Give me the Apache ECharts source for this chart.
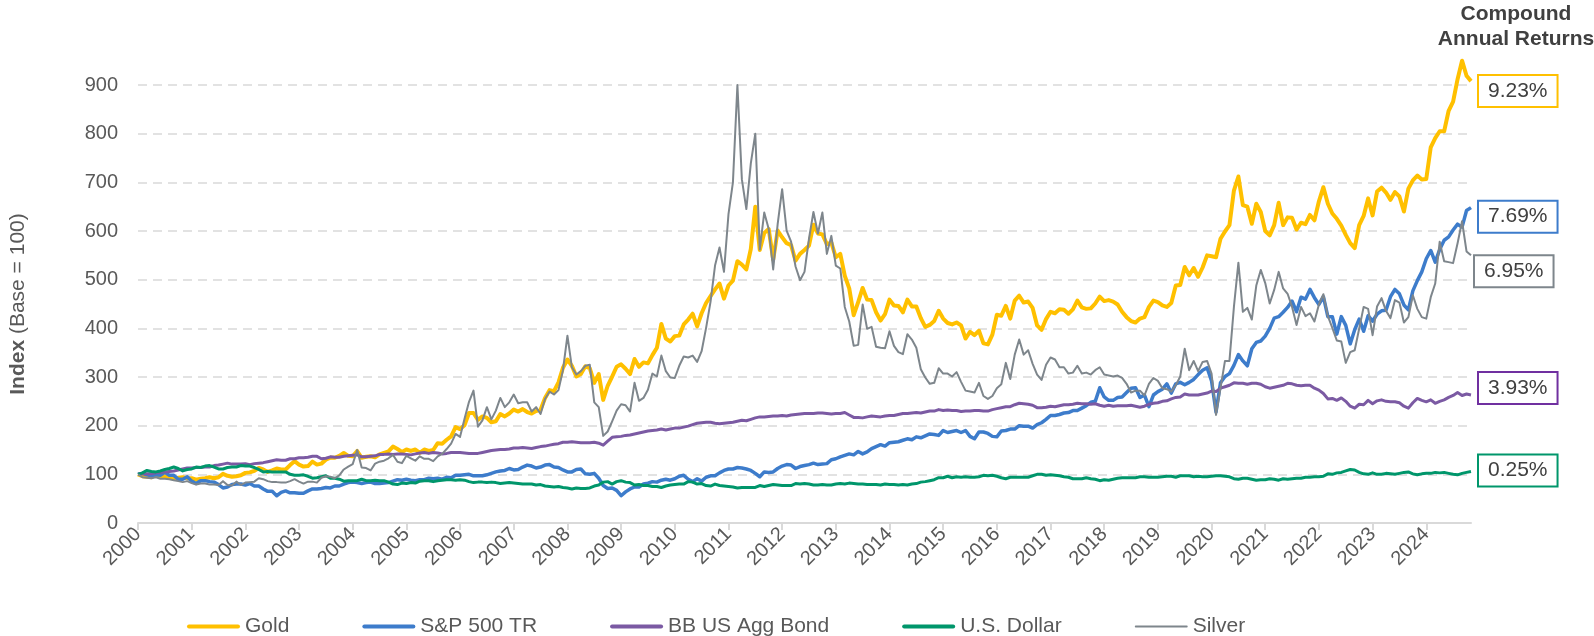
<!DOCTYPE html>
<html>
<head>
<meta charset="utf-8">
<title>Compound Annual Returns</title>
<script src="https://cdn.jsdelivr.net/npm/echarts@6/dist/echarts.min.js"></script>
<style>
  html, body { margin: 0; padding: 0; background: #fff; }
  #main { width: 1594px; height: 636px; }
</style>
</head>
<body>
<div id="main"></div>
<script>
// year labels, one every 12 monthly points
const yearLabels = ['2000', '2001', '2002', '2003', '2004', '2005', '2006', '2007', '2008',
  '2009', '2010', '2011', '2012', '2013', '2014', '2015', '2016', '2017', '2018', '2019',
  '2020', '2021', '2022', '2023', '2024'];

// index levels (base = 100), monthly
const gold = [100,
  96, 95, 94, 100, 96, 96, 94, 91, 93, 94,
  92, 92, 89, 91, 92, 94, 92, 94, 101, 97, 95, 96,
  98, 103, 104, 107, 113, 110, 105, 108, 112, 110, 110, 119,
  127, 120, 116, 117, 126, 120, 122, 130, 134, 134, 138, 144,
  138, 137, 148, 134, 136, 137, 135, 141, 144, 147, 157, 152,
  146, 151, 148, 151, 144, 151, 148, 150, 164, 163, 171, 178,
  197, 193, 201, 226, 226, 212, 219, 216, 207, 209, 224, 219,
  225, 233, 229, 234, 228, 225, 230, 233, 257, 273, 271, 289,
  319, 336, 323, 301, 306, 322, 318, 288, 306, 253, 282, 301,
  321, 326, 317, 306, 337, 321, 330, 328, 345, 360, 409, 379,
  373, 384, 385, 408, 418, 430, 404, 431, 452, 466, 480, 492,
  461, 488, 498, 538, 531, 521, 563, 650, 561, 596, 604, 541,
  601, 587, 575, 571, 539, 553, 561, 570, 613, 595, 593, 573,
  576, 546, 553, 508, 482, 427, 454, 483, 459, 458, 433, 416,
  429, 459, 447, 446, 433, 459, 445, 445, 421, 403, 407, 415,
  436, 420, 411, 408, 412, 406, 379, 393, 386, 395, 369, 367,
  387, 428, 426, 446, 420, 457, 467, 453, 455, 442, 406, 397,
  419, 434, 431, 439, 438, 430, 439, 457, 443, 440, 441, 451,
  465, 456, 458, 455, 449, 434, 423, 415, 412, 420, 423, 444,
  457, 454, 447, 444, 452, 488, 489, 526, 509, 524, 506, 525,
  550, 548, 546, 584, 599, 612, 683, 712, 653, 650, 615, 656,
  639, 600, 591, 612, 658, 612, 628, 627, 603, 617, 614, 633,
  622, 661, 690, 656, 636, 625, 611, 592, 575, 565, 612, 631,
  667, 632, 681, 689, 679, 664, 680, 671, 640, 687, 704, 714,
  706, 707, 772, 791, 805, 805, 847, 866, 912, 950, 919, 908];

const sp500 = [100,
  102, 99, 97, 99, 98, 104, 98, 98, 90, 90,
  95, 86, 81, 87, 87, 85, 84, 79, 72, 74, 79, 80,
  80, 78, 81, 76, 76, 70, 65, 65, 56, 63, 66, 62,
  62, 61, 61, 66, 70, 70, 71, 73, 72, 76, 76, 80,
  83, 84, 83, 81, 83, 84, 81, 81, 82, 83, 86, 89,
  88, 90, 88, 87, 89, 89, 92, 91, 92, 90, 94, 93,
  98, 98, 99, 100, 97, 97, 97, 99, 102, 105, 107, 108,
  112, 109, 110, 115, 119, 117, 113, 115, 119, 120, 115, 114,
  109, 105, 105, 110, 111, 101, 100, 102, 92, 77, 71, 72,
  67, 56, 64, 70, 74, 74, 80, 82, 85, 84, 88, 90,
  88, 91, 96, 98, 90, 85, 91, 86, 94, 97, 97, 103,
  108, 111, 111, 114, 113, 111, 108, 102, 95, 105, 104, 105,
  112, 117, 120, 119, 112, 116, 118, 120, 123, 120, 121, 122,
  130, 132, 136, 139, 142, 140, 147, 142, 146, 153, 157, 161,
  158, 165, 166, 167, 170, 173, 171, 177, 175, 179, 183, 182,
  180, 190, 186, 188, 190, 186, 190, 178, 173, 187, 187, 184,
  178, 177, 189, 190, 193, 193, 200, 199, 199, 195, 202, 206,
  213, 221, 221, 223, 226, 227, 231, 231, 236, 241, 248, 250,
  278, 259, 252, 252, 258, 259, 268, 277, 278, 258, 263, 239,
  263, 270, 275, 286, 267, 286, 289, 284, 289, 295, 305, 314,
  319, 292, 228, 288, 301, 307, 324, 346, 333, 323, 358, 371,
  374, 384, 400, 421, 424, 433, 443, 456, 434, 464, 460, 480,
  463, 449, 465, 424, 424, 388, 424, 406, 368, 397, 419, 394,
  426, 415, 429, 436, 437, 465, 480, 471, 448, 438, 477, 498,
  516, 543, 560, 536, 562, 581, 588, 602, 614, 608, 642, 648];

const aggBond = [100,
  101, 101, 101, 103, 104, 105, 106, 107, 109, 111,
  113, 113, 114, 114, 115, 115, 118, 119, 121, 123, 121, 121,
  121, 122, 120, 122, 123, 124, 126, 128, 130, 129, 129, 132,
  132, 134, 134, 135, 137, 137, 132, 133, 136, 135, 135, 137,
  138, 139, 140, 136, 136, 137, 138, 141, 141, 142, 141, 142,
  142, 141, 140, 142, 144, 145, 143, 145, 144, 142, 143, 145,
  145, 145, 144, 143, 143, 143, 145, 147, 149, 150, 151, 151,
  152, 154, 154, 155, 154, 153, 155, 157, 158, 160, 162, 163,
  166, 166, 167, 166, 165, 165, 165, 166, 164, 160, 168, 176,
  177, 178, 180, 181, 183, 185, 187, 189, 190, 191, 193, 191,
  193, 195, 195, 197, 199, 202, 205, 206, 207, 207, 205, 204,
  205, 206, 207, 209, 211, 210, 213, 216, 218, 218, 219, 220,
  220, 221, 220, 222, 223, 224, 225, 225, 225, 226, 226, 225,
  224, 225, 225, 227, 222, 217, 217, 216, 218, 220, 219, 218,
  220, 221, 221, 223, 225, 225, 226, 227, 226, 228, 230, 230,
  233, 231, 232, 231, 231, 229, 230, 230, 231, 231, 230, 230,
  233, 235, 237, 239, 239, 243, 246, 245, 244, 242, 237, 237,
  238, 240, 239, 241, 243, 243, 244, 246, 245, 245, 244, 245,
  242, 240, 242, 240, 241, 241, 241, 242, 240, 238, 240, 244,
  246, 247, 250, 251, 255, 258, 259, 265, 263, 263, 263, 265,
  267, 271, 270, 277, 280, 283, 288, 287, 287, 285, 287, 287,
  285, 280, 277, 279, 281, 283, 287, 286, 283, 282, 283, 283,
  277, 273, 266, 255, 256, 252, 257, 250, 240, 236, 244, 243,
  252, 245, 251, 253, 250, 249, 249, 247, 240, 236, 247, 256,
  252, 249, 253, 246, 250, 253, 258, 262, 268, 262, 265, 263];

const usDollar = [100,
  103, 108, 106, 105, 107, 110, 112, 115, 112, 107,
  110, 111, 115, 114, 117, 118, 115, 111, 111, 114, 115, 115,
  118, 117, 117, 114, 110, 105, 106, 105, 105, 105, 105, 100,
  98, 98, 99, 96, 92, 93, 95, 97, 92, 92, 90, 86,
  87, 87, 87, 90, 87, 87, 88, 87, 87, 84, 80, 79,
  82, 81, 83, 82, 86, 87, 87, 85, 87, 88, 89, 89,
  88, 89, 88, 85, 83, 84, 84, 83, 84, 83, 81, 82,
  83, 82, 81, 80, 80, 80, 78, 79, 76, 75, 74, 75,
  73, 72, 70, 72, 71, 71, 72, 76, 78, 84, 85, 80,
  85, 87, 84, 83, 78, 79, 77, 77, 75, 75, 73, 76,
  78, 79, 80, 80, 85, 84, 80, 81, 77, 76, 80, 77,
  76, 75, 74, 72, 73, 73, 73, 73, 77, 75, 77, 79,
  78, 77, 77, 77, 81, 80, 81, 80, 78, 78, 79, 78,
  78, 80, 81, 80, 82, 81, 80, 80, 79, 79, 79, 78,
  80, 79, 79, 78, 79, 78, 80, 81, 84, 85, 87, 89,
  93, 93, 96, 93, 95, 94, 95, 94, 94, 95, 98, 97,
  98, 96, 93, 91, 94, 94, 94, 94, 94, 97, 100, 100,
  98, 99, 98, 97, 95, 94, 91, 91, 91, 93, 91, 90,
  87, 89, 88, 90, 92, 93, 93, 93, 93, 95, 95, 94,
  94, 94, 95, 96, 96, 94, 97, 97, 97, 95, 96, 95,
  95, 96, 97, 97, 96, 95, 91, 90, 92, 92, 90, 88,
  89, 89, 91, 90, 88, 91, 90, 91, 92, 92, 94, 94,
  95, 95, 96, 101, 100, 103, 104, 107, 110, 109, 104, 101,
  100, 103, 100, 100, 102, 101, 100, 102, 104, 105, 101, 99,
  101, 102, 102, 104, 103, 104, 102, 100, 99, 102, 104, 106];

const silver = [100,
  94, 93, 92, 94, 91, 91, 90, 88, 86, 84,
  86, 82, 79, 81, 81, 79, 79, 78, 86, 78, 77, 85,
  78, 83, 84, 85, 92, 90, 86, 84, 84, 83, 83, 86,
  90, 85, 81, 85, 85, 83, 93, 96, 95, 92, 98, 110,
  116, 121, 150, 114, 113, 108, 122, 126, 128, 133, 140, 126,
  123, 138, 133, 128, 137, 132, 132, 127, 137, 142, 152, 163,
  183, 177, 214, 249, 272, 198, 211, 238, 213, 231, 257, 238,
  248, 264, 246, 248, 248, 229, 238, 224, 255, 270, 264, 273,
  314, 385, 320, 305, 312, 323, 325, 248, 238, 179, 188, 209,
  231, 244, 242, 229, 288, 251, 257, 274, 307, 301, 344, 312,
  299, 298, 323, 342, 340, 344, 331, 353, 401, 455, 529, 566,
  516, 634, 700, 900, 706, 645, 739, 800, 562, 638, 604, 521,
  614, 686, 601, 578, 527, 499, 516, 584, 639, 595, 638, 553,
  590, 529, 523, 444, 414, 364, 366, 449, 399, 403, 362, 360,
  359, 394, 364, 351, 347, 388, 377, 360, 316, 299, 286, 288,
  318, 307, 307, 301, 310, 290, 272, 270, 268, 288, 261, 255,
  261, 277, 285, 329, 296, 346, 377, 346, 355, 327, 305, 294,
  325, 340, 336, 320, 320, 307, 309, 323, 307, 309, 305, 314,
  320, 305, 303, 301, 303, 298, 286, 268, 272, 272, 262, 286,
  298, 292, 277, 275, 270, 283, 301, 358, 314, 333, 312, 331,
  333, 307, 222, 277, 333, 333, 444, 535, 434, 442, 418, 488,
  520, 493, 451, 479, 516, 482, 471, 444, 407, 444, 425, 431,
  414, 449, 470, 425, 401, 375, 373, 329, 351, 355, 399, 444,
  440, 386, 445, 462, 436, 421, 458, 453, 412, 423, 468, 440,
  423, 420, 464, 492, 578, 538, 536, 534, 575, 620, 558, 550];

const seriesNames = ['Gold', 'S&P 500 TR', 'BB US Agg Bond', 'U.S. Dollar', 'Silver'];
const cagrLabels = ['9.23%', '7.69%', '3.93%', '0.25%', '6.95%'];

const months = gold.map((v, i) => String(i));
const FONT = '"Liberation Sans", Arial, sans-serif';
// legend strokes: flat bars with rounded ends
const THICK_ICON = 'path://M2,0H51A2,2 0 0 1 51,4H2A2,2 0 0 1 2,0Z';
const THIN_ICON = 'path://M0,0M0,4M1,1.1H52A0.9,0.9 0 0 1 52,2.9H1A0.9,0.9 0 0 1 1,1.1Z';

function makeSeries(name, data, color, width, boxColor, label, offset) {
  return {
    name: name,
    type: 'line',
    data: data,
    symbol: 'none',
    showSymbol: false,
    clip: false,
    silent: true,
    lineStyle: { color: color, width: width, join: 'round' },
    itemStyle: { color: color },
    emphasis: { disabled: true },
    endLabel: {
      show: true,
      formatter: label,
      fontFamily: FONT,
      fontSize: 21,
      color: '#404040',
      backgroundColor: '#fff',
      borderColor: boxColor,
      borderWidth: 2,
      padding: [5, 9, 4, 9],
      distance: 5,
      offset: offset
    }
  };
}

let myChart = echarts.init(document.getElementById('main'));

let option = {
  animation: false,
  backgroundColor: '#fff',
  textStyle: { fontFamily: FONT },
  grid: {
    left: 133.5,
    right: 123,
    top: 85,
    bottom: 113,
    containLabel: false
  },
  legend: {
    data: seriesNames.map((n) => ({ name: n, icon: n === 'Silver' ? THIN_ICON : THICK_ICON })),
    left: 182,
    top: 611,
    itemWidth: 53,
    itemHeight: 14,
    itemGap: 73,
    symbolKeepAspect: true,
    textStyle: { fontFamily: FONT, fontSize: 21, color: '#595959' },
    selectedMode: false
  },
  graphic: [{
    type: 'text',
    x: 1516,
    y: 2,
    style: {
      text: 'Compound\nAnnual Returns',
      font: 'bold 21px ' + FONT,
      fill: '#404040',
      textAlign: 'center',
      align: 'center',
      lineHeight: 25
    }
  }],
  xAxis: {
    type: 'category',
    data: months,
    boundaryGap: false,
    axisLine: { lineStyle: { color: '#D9D9D9', width: 2 } },
    axisTick: {
      interval: (i) => i % 12 === 0,
      length: 7,
      lineStyle: { color: '#D9D9D9', width: 2 }
    },
    axisLabel: {
      interval: (i) => i % 12 === 0,
      formatter: (v, i) => yearLabels[i / 12] || '',
      rotate: 45,
      margin: 8,
      fontFamily: FONT,
      fontSize: 20,
      color: '#595959'
    },
    splitLine: { show: false }
  },
  yAxis: {
    type: 'value',
    min: 0,
    max: 900,
    interval: 100,
    name: '{b|Index} (Base = 100)',
    nameLocation: 'middle',
    nameGap: 109,
    nameTextStyle: {
      fontFamily: FONT,
      fontSize: 21,
      color: '#595959',
      rich: { b: { fontFamily: FONT, fontSize: 21, fontWeight: 'bold', color: '#595959' } }
    },
    axisLine: { show: false },
    axisTick: { show: false },
    axisLabel: { fontFamily: FONT, fontSize: 20, color: '#595959', margin: 20 },
    splitLine: { lineStyle: { color: '#D9D9D9', width: 1.5, type: [9, 6] } }
  },
  series: [
    makeSeries('Gold', gold, '#FFC000', 4, '#FFC000', cagrLabels[0], [3, 10]),
    makeSeries('S&P 500 TR', sp500, '#3D7CCB', 3.5, '#3D7CCB', cagrLabels[1], [3, 9]),
    makeSeries('BB US Agg Bond', aggBond, '#7B5AA3', 3, '#7030A0', cagrLabels[2], [3, -7]),
    makeSeries('U.S. Dollar', usDollar, '#00966B', 3, '#00966B', cagrLabels[3], [3, -1]),
    makeSeries('Silver', silver, '#7E868C', 2, '#7E868C', cagrLabels[4], [-1, 16])
  ]
};

myChart.setOption(option);
</script>
</body>
</html>
